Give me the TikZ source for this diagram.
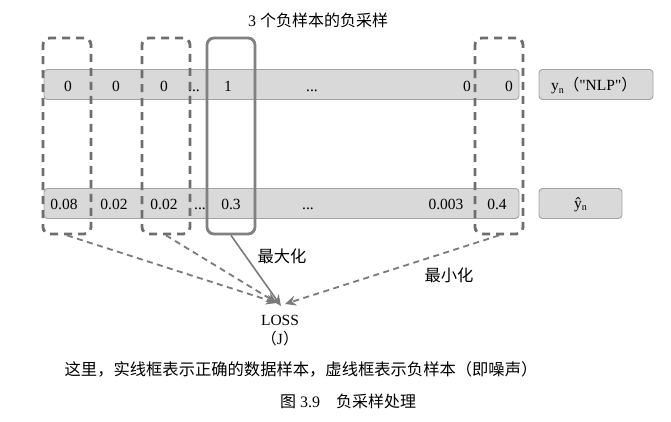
\documentclass[tikz,border=0pt]{standalone}
\usepackage{fontspec}
\setmainfont{Liberation Serif}
\newfontfamily\rawserif{Liberation Serif}
\newfontfamily\cjk{Noto Sans CJK SC}
\usetikzlibrary{arrows.meta}
\definecolor{barfill}{HTML}{D9D9D9}
\definecolor{barline}{HTML}{A3A3A3}
\definecolor{dashgray}{HTML}{6E6E6E}
\definecolor{solidgray}{HTML}{808080}
\definecolor{arrgray}{HTML}{7A7A7A}
\begin{document}
\begin{tikzpicture}[x=1pt,y=-1pt,
  font=\fontsize{15.5}{17}\selectfont,
  bar/.style={draw=barline,fill=barfill,line width=0.9pt,rounded corners=3.5pt,minimum height=30pt,inner sep=0pt},
  negbox/.style={draw=dashgray,line width=2.8pt,dash pattern=on 8pt off 6pt,rounded corners=7pt,minimum width=48pt,minimum height=196pt,inner sep=0pt},
  posbox/.style={draw=solidgray,line width=2.8pt,rounded corners=7pt,minimum width=48pt,minimum height=196pt,inner sep=0pt},
  val/.style={inner sep=0pt,anchor=base},
  lbl/.style={inner sep=0pt,font=\cjk\fontsize{16.3}{18}\selectfont},
  darr/.style={draw=arrgray,line width=1.8pt,dash pattern=on 6pt off 4.5pt,-{Stealth[length=11pt,width=10pt]}},
  sarr/.style={draw=arrgray,line width=1.6pt,-{Stealth[length=11pt,width=10pt]}}
]
\useasboundingbox (0,0) rectangle (671,422);

% title
\node[inner sep=0pt] (title) at (318,20) {\fontsize{16}{18}\selectfont 3 {\cjk 个负样本的负采样}};

% bars
\node[bar,minimum width=475pt] (ybar) at (281.5,84.5) {};
\node[bar,minimum width=114pt] (ylab) at (596,84.5) {};
\node[inner sep=0pt] (ylabt) at (594,86) {y\raisebox{-0.3ex}{\fontsize{10}{10}\selectfont n}{\cjk （}{\rawserif "}NLP{\rawserif "}{\cjk ）}};
\node[bar,minimum width=475pt] (pbar) at (281.5,203.5) {};
\node[bar,minimum width=83pt] (plab) at (580.5,203.5) {};
\node[inner sep=0pt] (plabt) at (580.5,205) {ŷ\raisebox{-0.3ex}{\fontsize{10}{10}\selectfont n}};

% top row values
\node[val] (t1) at (68,92) {0};
\node[val] (t2) at (116,92) {0};
\node[val] (t3) at (164,92) {0};
\node[val] (t4) at (194,92) {...};
\node[val] (t5) at (228,92) {1};
\node[val] (t6) at (312,92) {...};
\node[val] (t7) at (467,92) {0};
\node[val] (t8) at (509,92) {0};

% bottom row values
\node[val] (b1) at (64,209) {0.08};
\node[val] (b2) at (114,209) {0.02};
\node[val] (b3) at (164,209) {0.02};
\node[val] (b4) at (200,209) {...};
\node[val] (b5) at (231,209) {0.3};
\node[val] (b6) at (308,209) {...};
\node[val] (b7) at (446,209) {0.003};
\node[val] (b8) at (497,209) {0.4};

% sample boxes
\node[negbox] (n1) at (67,136) {};
\node[negbox] (n2) at (166,136) {};
\node[posbox] (p1) at (231,136) {};
\node[negbox] (n3) at (499,136) {};

% loss
\node[inner sep=0pt,align=center] (loss) at (280,320) {LOSS};
\node[inner sep=0pt] (lossj) at (280,339) {{\cjk （}J{\cjk ）}};
\coordinate (tipl) at (277,303);
\coordinate (tipm) at (281,306);
\coordinate (tipr) at (285,304);

\draw[darr] (n1.south) -- (tipl);
\draw[darr] (n2.south) -- (tipl);
\draw[sarr] (p1.south) -- (tipm);
\draw[darr] (n3.south) -- (tipr);

\node[lbl] (maxl) at (282,256) {最大化};
\node[lbl] (minl) at (449,275) {最小化};

% captions
\node[lbl] (cap1) at (301,369) {这里，实线框表示正确的数据样本，虚线框表示负样本（即噪声）};
\node[inner sep=0pt] (cap2) at (348,401) {\fontsize{16}{18}\selectfont{\cjk 图} 3.9\hspace{1em}{\cjk 负采样处理}};
\end{tikzpicture}
\end{document}
